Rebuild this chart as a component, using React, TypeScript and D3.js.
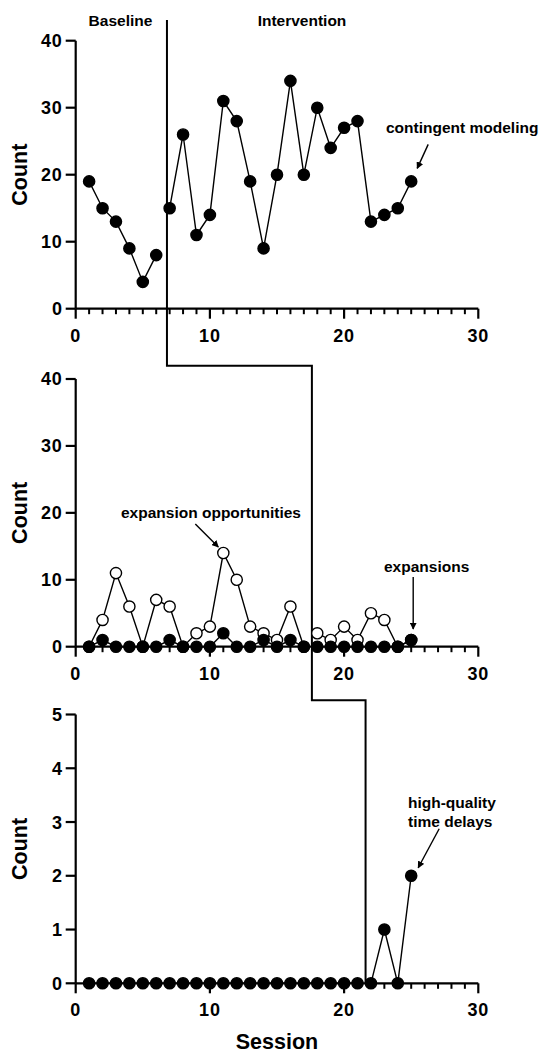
import React from 'react';
import * as d3 from 'd3';

// sessions 1..25
const sessions = d3.range(1, 26);

// panel 1: contingent modeling
const modeling = [19, 15, 13, 9, 4, 8, 15, 26, 11, 14, 31, 28, 19, 9, 20, 34, 20, 30, 24, 27, 28, 13, 14, 15, 19];
// panel 2
const opportunities = [0, 4, 11, 6, 0, 7, 6, 0, 2, 3, 14, 10, 3, 2, 1, 6, 0, 2, 1, 3, 1, 5, 4, 0, 1];
const expansions = [0, 1, 0, 0, 0, 0, 1, 0, 0, 0, 2, 0, 0, 1, 0, 1, 0, 0, 0, 0, 0, 0, 0, 0, 1];
// panel 3
const timeDelays = [0, 0, 0, 0, 0, 0, 0, 0, 0, 0, 0, 0, 0, 0, 0, 0, 0, 0, 0, 0, 0, 0, 1, 0, 2];

// last baseline session for each tier, and where the phase line sits
const lastBaseline = [6, 17, 21];
const phaseX = [6.8, 17.6, 21.6];

const xTicks = [0, 10, 20, 30];
const yTicks40 = [0, 10, 20, 30, 40];
const yTicks5 = [0, 1, 2, 3, 4, 5];

const FONT = '"Liberation Sans", Arial, sans-serif';

const x = d3.scaleLinear().domain([0, 30]).range([75.7, 478.3]);

const panels = [
  { y: d3.scaleLinear().domain([0, 40]).range([308.7, 40.7]), ticks: yTicks40 },
  { y: d3.scaleLinear().domain([0, 40]).range([646.7, 379]), ticks: yTicks40 },
  { y: d3.scaleLinear().domain([0, 5]).range([983.3, 714.5]), ticks: yTicks5 },
];

type Pt = { s: number; v: number };

const toPts = (vals: number[]): Pt[] => vals.map((v, i) => ({ s: sessions[i], v }));

const Series = ({ vals, y, split, open }: { vals: number[]; y: d3.ScaleLinear<number, number>; split: number; open?: boolean }) => {
  const pts = toPts(vals);
  const line = d3.line<Pt>().x(d => x(d.s)).y(d => y(d.v));
  const a = pts.filter(d => d.s <= split);
  const b = pts.filter(d => d.s > split);
  return (
    <g>
      <path d={line(a) || ''} fill="none" stroke="#000" strokeWidth={1.4} />
      <path d={line(b) || ''} fill="none" stroke="#000" strokeWidth={1.4} />
      {pts.map(d => (
        <circle key={d.s} cx={x(d.s)} cy={y(d.v)} r={5.6}
          fill={open ? '#fff' : '#000'} stroke="#000" strokeWidth={1.4} />
      ))}
    </g>
  );
};

const Axes = ({ y, ticks }: { y: d3.ScaleLinear<number, number>; ticks: number[] }) => {
  const [y0] = y.range();
  const yTop = y.range()[1];
  const minor = d3.range(1, 30).filter(t => t % 10 !== 0);
  return (
    <g stroke="#000" strokeWidth={2.2} fontFamily={FONT} fontWeight="bold">
      <line x1={x(0)} x2={x(0)} y1={yTop} y2={y0} />
      <line x1={x(0)} x2={x(30)} y1={y0} y2={y0} />
      {ticks.map(t => (
        <g key={t}>
          <line x1={x(0) - 10} x2={x(0)} y1={y(t)} y2={y(t)} />
          <text x={x(0) - 13} y={y(t)} dy="0.36em" textAnchor="end" stroke="none"
            fontSize={18} letterSpacing={0.8}>{t}</text>
        </g>
      ))}
      {xTicks.map(t => (
        <g key={t}>
          <line x1={x(t)} x2={x(t)} y1={y0} y2={y0 + 10} />
          <text x={x(t)} y={y0 + 33} textAnchor="middle" stroke="none"
            fontSize={18} letterSpacing={0.8}>{t}</text>
        </g>
      ))}
      {minor.map(t => (
        <line key={t} x1={x(t)} x2={x(t)} y1={y0} y2={y0 + 5.5} strokeWidth={2} />
      ))}
      <text transform={`translate(27,${(y0 + yTop) / 2}) rotate(-90)`} textAnchor="middle"
        stroke="none" fontSize={21.5}>Count</text>
    </g>
  );
};

const Arrow = ({ x1, y1, x2, y2 }: { x1: number; y1: number; x2: number; y2: number }) => (
  <line x1={x1} y1={y1} x2={x2} y2={y2} stroke="#000" strokeWidth={1.4} markerEnd="url(#head)" />
);

export default function App() {
  const [p1, p2, p3] = panels;
  const phasePath = `M${x(phaseX[0])},20V365.7H${x(phaseX[1])}V700.3H${x(phaseX[2])}V${p3.y(0)}`;

  const a1 = { x: x(25), y: p1.y(modeling[24]) };
  const a2 = { x: x(11), y: p2.y(opportunities[10]) };
  const a3 = { x: x(25), y: p2.y(expansions[24]) };
  const a4 = { x: x(25), y: p3.y(timeDelays[24]) };

  return (
    <svg width={550} height={1060} viewBox="0 0 550 1060"
      style={{ position: 'absolute', left: 0, top: 0, background: '#fff' }}>
      <defs>
        <marker id="head" viewBox="0 0 10 10" refX={9} refY={5} markerWidth={7} markerHeight={7}
          markerUnits="userSpaceOnUse" orient="auto">
          <path d="M0,0L10,5L0,10Z" fill="#000" />
        </marker>
      </defs>

      {panels.map((p, i) => <Axes key={i} y={p.y} ticks={p.ticks} />)}

      <path d={phasePath} fill="none" stroke="#000" strokeWidth={2} />

      <Series vals={modeling} y={p1.y} split={lastBaseline[0]} />
      <Series vals={opportunities} y={p2.y} split={lastBaseline[1]} open />
      <Series vals={expansions} y={p2.y} split={lastBaseline[1]} />
      <Series vals={timeDelays} y={p3.y} split={lastBaseline[2]} />

      <g fontFamily={FONT} fontWeight="bold" fontSize={15.5}>
        <text x={120.5} y={26} textAnchor="middle">Baseline</text>
        <text x={302} y={26} textAnchor="middle">Intervention</text>
        <text x={386} y={133}>contingent modeling</text>
        <text x={121} y={518}>expansion opportunities</text>
        <text x={384} y={572}>expansions</text>
        <text x={408} y={808}>high-quality</text>
        <text x={408} y={827}>time delays</text>
        <text x={(x(0) + x(30)) / 2} y={1049} textAnchor="middle" fontSize={21.5}>Session</text>
      </g>

      <Arrow x1={a1.x + 17} y1={a1.y - 37} x2={a1.x + 6} y2={a1.y - 13} />
      <Arrow x1={a2.x - 28} y1={a2.y - 29} x2={a2.x - 5} y2={a2.y - 6} />
      <Arrow x1={a3.x + 2} y1={577} x2={a3.x + 2} y2={a3.y - 11} />
      <Arrow x1={a4.x + 28} y1={a4.y - 47} x2={a4.x + 7} y2={a4.y - 8} />
    </svg>
  );
}
